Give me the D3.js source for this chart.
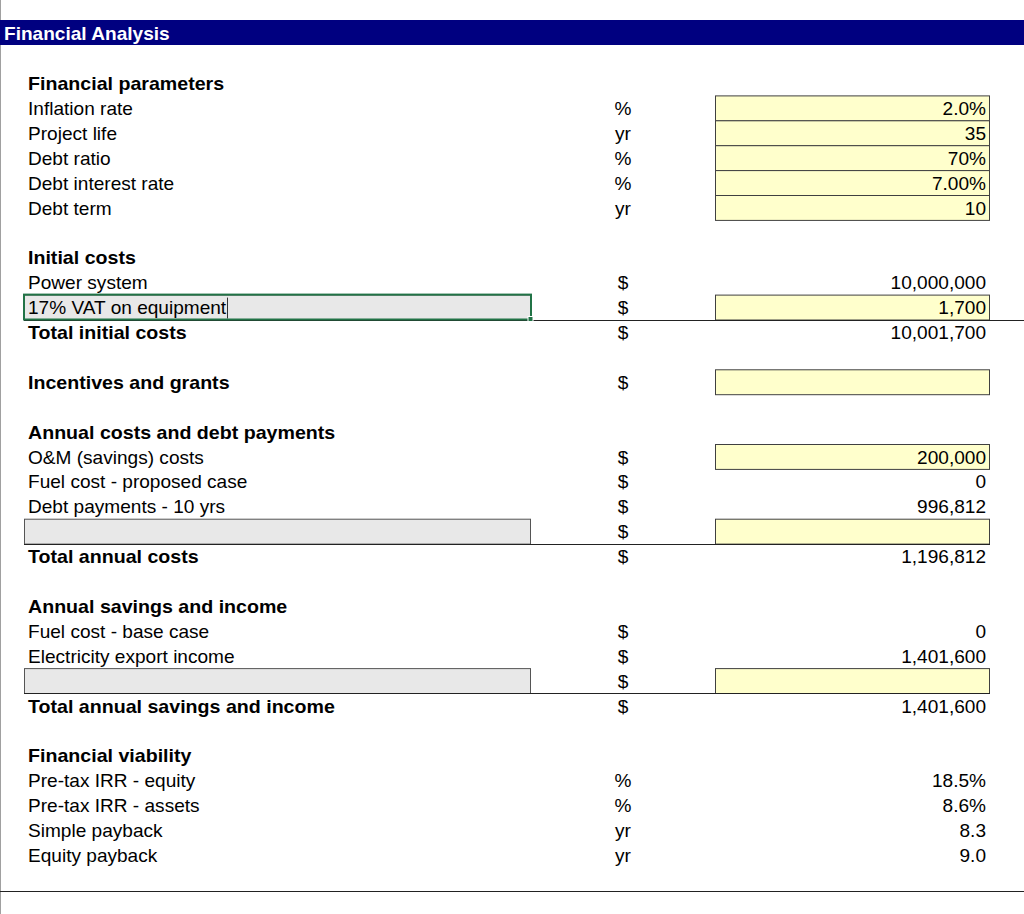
<!DOCTYPE html>
<html>
<head>
<meta charset="utf-8">
<script src="https://cdn.jsdelivr.net/npm/d3@7"></script>
<style>
	body { margin: 0; background: #fff; }
	svg { display: block; font-family: "Liberation Sans", Arial, sans-serif; }
</style>
</head>
<body>
<div id="sheet"></div>
<script>

// sheet rows, top to bottom
var labels = [
	"Financial parameters", "Inflation rate", "Project life", "Debt ratio", "Debt interest rate", "Debt term",
	"",
	"Initial costs", "Power system", "17% VAT on equipment", "Total initial costs",
	"",
	"Incentives and grants",
	"",
	"Annual costs and debt payments", "O&M (savings) costs", "Fuel cost - proposed case", "Debt payments - 10 yrs", "", "Total annual costs",
	"",
	"Annual savings and income", "Fuel cost - base case", "Electricity export income", "", "Total annual savings and income",
	"",
	"Financial viability", "Pre-tax IRR - equity", "Pre-tax IRR - assets", "Simple payback", "Equity payback"
];
var units = [
	"", "%", "yr", "%", "%", "yr",
	"",
	"", "$", "$", "$",
	"",
	"$",
	"",
	"", "$", "$", "$", "$", "$",
	"",
	"", "$", "$", "$", "$",
	"",
	"", "%", "%", "yr", "yr"
];
var values = [
	"", "2.0%", "35", "70%", "7.00%", "10",
	"",
	"", "10,000,000", "1,700", "10,001,700",
	"",
	"",
	"",
	"", "200,000", "0", "996,812", "", "1,196,812",
	"",
	"", "0", "1,401,600", "", "1,401,600",
	"",
	"", "18.5%", "8.6%", "8.3", "9.0"
];
// h = section heading, b = bold total, i = plain line
var kinds = [
	"h", "i", "i", "i", "i", "i",
	"",
	"h", "i", "i", "b",
	"",
	"b",
	"",
	"h", "i", "i", "i", "i", "b",
	"",
	"h", "i", "i", "i", "b",
	"",
	"h", "i", "i", "i", "i"
];
var inputRows = [1, 2, 3, 4, 5, 9, 12, 15, 18, 24];		// yellow cells
var greyRows = [9, 18, 24];								// grey user label cells
var totalLines = [10, 19, 25];
var selectedRow = 9;

var width = 1024, height = 914;
var sx = 1.06;		// sheet is a bit stretched sideways
var sxb = 1.09;		// bold runs a little wider

var y = d3.scaleLinear().domain([0, 1]).range([70.5, 95.4]);
var col = d3.scaleOrdinal()
	.domain(["label", "greyL", "greyR", "unit", "inL", "inR", "val"])
	.range([28, 24, 530, 623, 715, 989, 986]);

var svg = d3.select("#sheet").append("svg")
	.attr("width", width)
	.attr("height", height);

// left sheet edge
svg.append("line")
	.attr("x1", 0.5).attr("x2", 0.5)
	.attr("y1", 0).attr("y2", height)
	.attr("stroke", "#a0a0a0");

// title bar
svg.append("rect")
	.attr("x", 0).attr("y", 20)
	.attr("width", width).attr("height", 25)
	.attr("fill", "#000080");
svg.append("text")
	.attr("transform", `translate(4,40) scale(${sx},1)`)
	.attr("fill", "#fff")
	.attr("font-weight", "bold")
	.attr("font-size", 18)
	.text("Financial Analysis");

// grey label cells
svg.append("g").selectAll("rect")
	.data(greyRows)
	.join("rect")
	.attr("x", col("greyL") + 0.5)
	.attr("y", d => y(d) + 0.5)
	.attr("width", col("greyR") - col("greyL"))
	.attr("height", d => y(d + 1) - y(d))
	.attr("fill", "#e8e8e8")
	.attr("stroke", "#555")
	.attr("stroke-width", 1);

// yellow input cells
svg.append("g").selectAll("rect")
	.data(inputRows)
	.join("rect")
	.attr("x", col("inL") + 0.5)
	.attr("y", d => y(d) + 0.5)
	.attr("width", col("inR") - col("inL"))
	.attr("height", d => y(d + 1) - y(d))
	.attr("fill", "#ffffcc")
	.attr("stroke", "#404040")
	.attr("stroke-width", 1);

// total lines
svg.append("g").selectAll("line")
	.data(totalLines)
	.join("line")
	.attr("x1", col("greyL"))
	.attr("x2", d => d === 10 ? width : col("inR") + 1)
	.attr("y1", d => Math.round(y(d)) + 0.5)
	.attr("y2", d => Math.round(y(d)) + 0.5)
	.attr("stroke", "#222");

// bottom rule
svg.append("line")
	.attr("x1", 0).attr("x2", width)
	.attr("y1", Math.round(y(32.95)) + 0.5).attr("y2", Math.round(y(32.95)) + 0.5)
	.attr("stroke", "#222");

var rows = d3.range(labels.length);

var txt = svg.append("g").attr("font-size", 18).attr("fill", "#000");

txt.selectAll(".lab")
	.data(rows.filter(i => labels[i] !== ""))
	.join("text")
	.attr("class", "lab")
	.attr("transform", i => `translate(${col("label")},${y(i) + 19.5}) scale(${kinds[i] === "i" ? sx : sxb},1)`)
	.attr("font-weight", i => kinds[i] === "i" ? null : "bold")
	.text(i => labels[i]);

txt.selectAll(".unit")
	.data(rows.filter(i => units[i] !== ""))
	.join("text")
	.attr("class", "unit")
	.attr("transform", i => `translate(${col("unit")},${y(i) + 19.5}) scale(${sx},1)`)
	.attr("text-anchor", "middle")
	.text(i => units[i]);

txt.selectAll(".val")
	.data(rows.filter(i => values[i] !== ""))
	.join("text")
	.attr("class", "val")
	.attr("transform", i => `translate(${col("val")},${y(i) + 19.5}) scale(${sx},1)`)
	.attr("text-anchor", "end")
	.text(i => values[i]);

// selected cell
var sel = svg.append("g");
var lab = txt.selectAll(".lab").filter(i => i === selectedRow).node();
var labEnd = col("label") + lab.getComputedTextLength() * sx + 1;
sel.append("line")
	.attr("x1", Math.round(labEnd) + 0.5).attr("x2", Math.round(labEnd) + 0.5)
	.attr("y1", y(selectedRow) + 3).attr("y2", y(selectedRow + 1) - 1)
	.attr("stroke", "#333");
sel.append("rect")
	.attr("x", col("greyL"))
	.attr("y", y(selectedRow))
	.attr("width", col("greyR") - col("greyL") + 1)
	.attr("height", y(selectedRow + 1) - y(selectedRow))
	.attr("fill", "none")
	.attr("stroke", "#217346")
	.attr("stroke-width", 2);
sel.append("rect")
	.attr("x", col("greyR") - 2)
	.attr("y", y(selectedRow + 1) - 3)
	.attr("width", 5).attr("height", 5)
	.attr("fill", "#217346")
	.attr("stroke", "#fff")
	.attr("stroke-width", 1);

</script>
</body>
</html>
